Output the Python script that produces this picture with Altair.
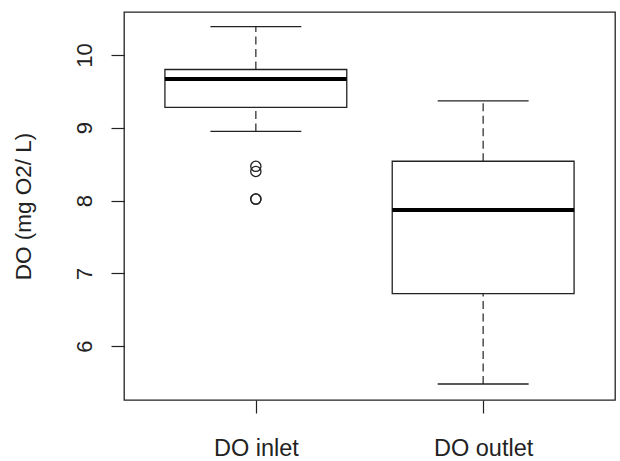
import altair as alt
import pandas as pd

categories = ["DO inlet", "DO outlet"]
positions = [1, 2]
lower_whisker = [8.95, 5.48]
q1 = [9.28, 6.72]
median = [9.67, 7.87]
q3 = [9.80, 8.54]
upper_whisker = [10.39, 9.37]

outlier_group = [1, 1, 1, 1]
outlier_values = [8.47, 8.40, 8.02, 8.02]

y_ticks = [6, 7, 8, 9, 10]

box_half = 0.4
cap_half = 0.2

df = pd.DataFrame({
    "cat": categories,
    "pos": positions,
    "lo": lower_whisker,
    "q1": q1,
    "med": median,
    "q3": q3,
    "hi": upper_whisker,
})
df["bx1"] = df["pos"] - box_half
df["bx2"] = df["pos"] + box_half
df["cx1"] = df["pos"] - cap_half
df["cx2"] = df["pos"] + cap_half

out_df = pd.DataFrame({"pos": outlier_group, "val": outlier_values})

FONT = "Liberation Sans"
INK = "#222"
label_expr = " : ".join(
    [f"datum.value == {p} ? '{c}'" for p, c in zip(positions[:-1], categories[:-1])]
    + [f"'{categories[-1]}'"]
)

xscale = alt.Scale(domain=[0.42, 2.58], nice=False, zero=False)
yscale = alt.Scale(domain=[5.26, 10.59], nice=False, zero=False)

xaxis = alt.Axis(
    values=positions, labelExpr=label_expr, title=None, grid=False, domain=False,
    tickSize=13, tickColor=INK, tickWidth=1.2, labelFont=FONT, labelFontSize=23.5,
    labelColor=INK, labelBaseline="alphabetic", labelPadding=42, labelAlign="center",
)
yaxis = alt.Axis(
    values=y_ticks, title="DO (mg O2/ L)", grid=False, domain=False,
    tickSize=13, tickColor=INK, tickWidth=1.2, labelFont=FONT, labelFontSize=22,
    labelColor=INK, labelAngle=-90, labelAlign="center", labelBaseline="alphabetic",
    labelPadding=20, titleFont=FONT, titleFontSize=22.5, titleColor=INK,
    titleFontWeight="normal", titleAngle=-90, titleBaseline="alphabetic",
    titleAlign="center", titleX=-94, titleY=194,
)

base = alt.Chart(df)
DASH = [8, 4.5]

whisk_up = base.mark_rule(color="#333", strokeWidth=1.3, strokeDash=DASH).encode(
    x=alt.X("pos:Q", scale=xscale, axis=xaxis),
    y=alt.Y("q3:Q", scale=yscale, axis=yaxis),
    y2="hi:Q",
)
whisk_lo = base.mark_rule(color="#333", strokeWidth=1.3, strokeDash=DASH).encode(
    x=alt.X("pos:Q", scale=xscale, axis=xaxis),
    y=alt.Y("lo:Q", scale=yscale, axis=yaxis),
    y2="q1:Q",
)
cap_hi = base.mark_rule(color=INK, strokeWidth=1.3).encode(
    x=alt.X("cx1:Q", scale=xscale, axis=xaxis),
    x2="cx2:Q",
    y=alt.Y("hi:Q", scale=yscale, axis=yaxis),
)
cap_lo = base.mark_rule(color=INK, strokeWidth=1.3).encode(
    x=alt.X("cx1:Q", scale=xscale, axis=xaxis),
    x2="cx2:Q",
    y=alt.Y("lo:Q", scale=yscale, axis=yaxis),
)
box = base.mark_rect(fill="white", stroke=INK, strokeWidth=1.3).encode(
    x=alt.X("bx1:Q", scale=xscale, axis=xaxis),
    x2="bx2:Q",
    y=alt.Y("q1:Q", scale=yscale, axis=yaxis),
    y2="q3:Q",
)
med = base.mark_rule(color="black", strokeWidth=4).encode(
    x=alt.X("bx1:Q", scale=xscale, axis=xaxis),
    x2="bx2:Q",
    y=alt.Y("med:Q", scale=yscale, axis=yaxis),
)
outl = alt.Chart(out_df).mark_point(
    shape="circle", filled=False, color=INK, size=105, strokeWidth=1.3, opacity=1
).encode(
    x=alt.X("pos:Q", scale=xscale, axis=xaxis),
    y=alt.Y("val:Q", scale=yscale, axis=yaxis),
)

chart = alt.layer(whisk_up, whisk_lo, cap_hi, cap_lo, box, med, outl).properties(
    width=491,
    height=388,
    background="white",
    autosize=alt.AutoSizeParams(type="none"),
    padding={"left": 124, "top": 12, "right": 5, "bottom": 61},
).configure_view(stroke=INK, strokeWidth=1.3)

chart.save("out.html", embed_options={"renderer": "svg", "actions": False})
